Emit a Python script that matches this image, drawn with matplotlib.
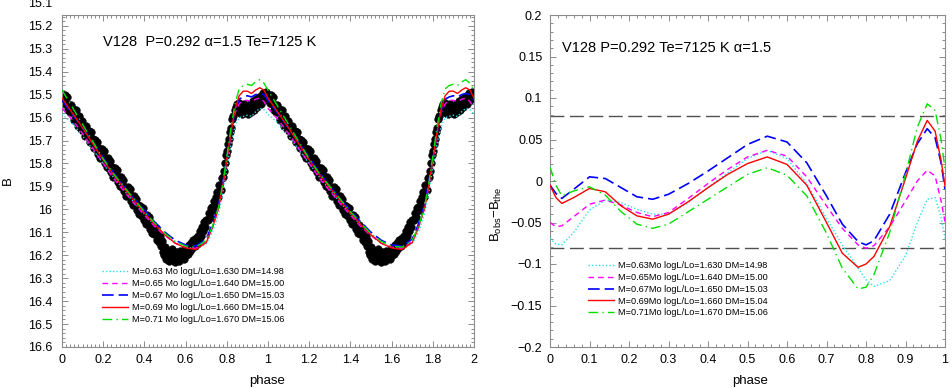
import matplotlib
matplotlib.use('Agg')
import matplotlib.pyplot as plt
from matplotlib.ticker import MultipleLocator, FuncFormatter

plt.rcParams['font.family'] = ['Liberation Sans', 'DejaVu Sans']
plt.rcParams['mathtext.fontset'] = 'custom'
plt.rcParams['mathtext.rm'] = 'Liberation Sans'
plt.rcParams['mathtext.it'] = 'Liberation Sans:italic'

# ---------------- data: observed light curve (one cycle, repeated at phase+1) ----------
obs_phase = [0.003, 0.008, 0.013, 0.018, 0.023, 0.029, 0.034, 0.039, 0.044, 0.05,
             0.055, 0.06, 0.066, 0.071, 0.076, 0.081, 0.087, 0.092, 0.097, 0.102,
             0.108, 0.113, 0.118, 0.123, 0.129, 0.134, 0.139, 0.144, 0.15, 0.155,
             0.16, 0.165, 0.171, 0.176, 0.181, 0.186, 0.192, 0.197, 0.202, 0.207,
             0.213, 0.218, 0.223, 0.228, 0.234, 0.239, 0.244, 0.249, 0.255, 0.26,
             0.265, 0.27, 0.276, 0.281, 0.286, 0.291, 0.297, 0.302, 0.307, 0.312,
             0.318, 0.323, 0.328, 0.333, 0.339, 0.344, 0.349, 0.354, 0.36, 0.365,
             0.37, 0.375, 0.381, 0.386, 0.391, 0.396, 0.402, 0.407, 0.412, 0.417,
             0.423, 0.428, 0.433, 0.438, 0.444, 0.449, 0.454, 0.46, 0.465, 0.47,
             0.476, 0.481, 0.486, 0.491, 0.497, 0.502, 0.507, 0.512, 0.518, 0.523,
             0.528, 0.533, 0.539, 0.544, 0.549, 0.554, 0.56, 0.565, 0.57, 0.575,
             0.581, 0.586, 0.591, 0.596, 0.602, 0.607, 0.612, 0.617, 0.623, 0.628,
             0.633, 0.638, 0.644, 0.649, 0.654, 0.659, 0.665, 0.67, 0.675, 0.68,
             0.686, 0.691, 0.696, 0.701, 0.707, 0.712, 0.717, 0.722, 0.728, 0.733,
             0.738, 0.743, 0.749, 0.754, 0.759, 0.764, 0.77, 0.775, 0.78, 0.785,
             0.79, 0.796, 0.801, 0.806, 0.811, 0.817, 0.822, 0.827, 0.832, 0.838,
             0.843, 0.848, 0.853, 0.858, 0.864, 0.869, 0.874, 0.88, 0.885, 0.89,
             0.895, 0.901, 0.906, 0.911, 0.916, 0.922, 0.927, 0.932, 0.937, 0.943,
             0.948, 0.953, 0.958, 0.964, 0.969, 0.974, 0.979, 0.985, 0.99, 0.995]
obs_B = [15.50, 15.536, 15.503, 15.54, 15.511, 15.569, 15.546, 15.577, 15.544, 15.577,
         15.563, 15.61, 15.567, 15.614, 15.636, 15.592, 15.63, 15.652, 15.613, 15.66,
         15.642, 15.679, 15.635, 15.677, 15.66, 15.705, 15.663, 15.71, 15.693, 15.734,
         15.696, 15.727, 15.705, 15.757, 15.733, 15.775, 15.737, 15.774, 15.745, 15.797,
         15.78, 15.817, 15.778, 15.82, 15.788, 15.839, 15.816, 15.857, 15.82, 15.852,
         15.828, 15.88, 15.858, 15.899, 15.861, 15.902, 15.87, 15.922, 15.903, 15.94,
         15.903, 15.939, 15.911, 15.962, 15.94, 15.982, 15.943, 15.975, 15.953, 16.004,
         15.981, 16.022, 15.985, 16.027, 15.993, 16.045, 16.028, 16.064, 16.026, 16.062,
         16.035, 16.087, 16.063, 16.105, 16.068, 16.109, 16.08, 16.133, 16.105, 16.142,
         16.115, 16.16, 16.14, 16.185, 16.20, 16.165, 16.215, 16.185, 16.225, 16.19,
         16.21, 16.175, 16.22, 16.195, 16.23, 16.185, 16.21, 16.195, 16.225, 16.18,
         16.205, 16.185, 16.215, 16.175, 16.20, 16.165, 16.195, 16.155, 16.18, 16.145,
         16.17, 16.135, 16.16, 16.125, 16.15, 16.115, 16.135, 16.095, 16.115, 16.075,
         16.095, 16.055, 16.075, 16.045, 16.045, 16.015, 16.035, 15.995, 15.99, 16.005,
         15.965, 15.985, 15.945, 15.925, 15.945, 15.895, 15.915, 15.865, 15.86, 15.835,
         15.80, 15.765, 15.745, 15.715, 15.695, 15.665, 15.645, 15.605, 15.595, 15.565,
         15.555, 15.54, 15.565, 15.535, 15.58, 15.55, 15.585, 15.555, 15.54, 15.575,
         15.55, 15.585, 15.56, 15.54, 15.575, 15.55, 15.53, 15.565, 15.535, 15.52,
         15.555, 15.525, 15.51, 15.54, 15.505, 15.495, 15.525, 15.50, 15.49, 15.515]

# ---------------- data: model light curves (one cycle) ----------------
model_phase = [0, 0.05, 0.1, 0.15, 0.2, 0.25, 0.3, 0.35, 0.4, 0.45, 0.5, 0.55, 0.6,
               0.65, 0.7, 0.73, 0.76, 0.78, 0.8, 0.82, 0.84, 0.86, 0.88, 0.9, 0.92,
               0.94, 0.96, 0.98, 1.0]
B_m063 = [15.585, 15.625, 15.68, 15.74, 15.80, 15.86, 15.915, 15.97, 16.02, 16.07,
          16.11, 16.145, 16.165, 16.172, 16.15, 16.10, 16.02, 15.93, 15.82, 15.715,
          15.64, 15.60, 15.595, 15.59, 15.595, 15.575, 15.56, 15.565, 15.585]
B_m065 = [15.56, 15.61, 15.67, 15.735, 15.80, 15.865, 15.92, 15.975, 16.025, 16.075,
          16.115, 16.148, 16.165, 16.17, 16.14, 16.08, 15.995, 15.90, 15.79, 15.675,
          15.58, 15.54, 15.525, 15.525, 15.53, 15.52, 15.515, 15.53, 15.56]
B_m067 = [15.525, 15.585, 15.645, 15.71, 15.775, 15.84, 15.90, 15.955, 16.005, 16.055,
          16.10, 16.135, 16.155, 16.16, 16.13, 16.065, 15.98, 15.885, 15.775, 15.665,
          15.57, 15.52, 15.51, 15.505, 15.51, 15.50, 15.495, 15.50, 15.525]
B_m069 = [15.515, 15.58, 15.645, 15.715, 15.785, 15.85, 15.907, 15.962, 16.016, 16.066,
          16.111, 16.148, 16.168, 16.175, 16.145, 16.08, 15.995, 15.90, 15.783, 15.667,
          15.565, 15.505, 15.485, 15.485, 15.495, 15.48, 15.47, 15.48, 15.515]
B_m071 = [15.48, 15.555, 15.63, 15.705, 15.78, 15.845, 15.90, 15.955, 16.01, 16.06,
          16.105, 16.14, 16.16, 16.165, 16.135, 16.075, 15.99, 15.89, 15.77, 15.645,
          15.54, 15.475, 15.46, 15.455, 15.46, 15.445, 15.435, 15.45, 15.48]

# ---------------- data: residuals B_obs - B_the ----------------
res_phase = [0, 0.015, 0.03, 0.06, 0.1, 0.14, 0.18, 0.22, 0.26, 0.3, 0.35, 0.4, 0.45,
             0.5, 0.55, 0.6, 0.65, 0.7, 0.74, 0.78, 0.8, 0.82, 0.86, 0.9, 0.93, 0.955,
             0.975, 0.99, 1.0]
res_m063 = [-0.069, -0.076, -0.077, -0.062, -0.035, -0.023, -0.026, -0.034, -0.040, -0.040,
            -0.026, -0.008, 0.010, 0.027, 0.037, 0.027, -0.003, -0.045, -0.077, -0.105,
            -0.119, -0.127, -0.120, -0.090, -0.050, -0.022, -0.020, -0.044, -0.069]
res_m065 = [-0.050, -0.055, -0.054, -0.043, -0.028, -0.023, -0.029, -0.038, -0.043, -0.038,
            -0.021, -0.003, 0.014, 0.029, 0.037, 0.030, 0.005, -0.030, -0.057, -0.077,
            -0.081, -0.078, -0.055, -0.024, 0.000, 0.013, 0.006, -0.024, -0.049]
res_m067 = [-0.005, -0.015, -0.021, -0.010, 0.005, 0.003, -0.008, -0.019, -0.022, -0.016,
            -0.003, 0.012, 0.028, 0.044, 0.054, 0.047, 0.022, -0.018, -0.052, -0.073,
            -0.077, -0.072, -0.040, 0.010, 0.045, 0.063, 0.052, 0.022, -0.010]
res_m069 = [-0.005, -0.020, -0.027, -0.020, -0.009, -0.013, -0.030, -0.042, -0.046, -0.040,
            -0.025, -0.008, 0.008, 0.021, 0.029, 0.020, -0.005, -0.050, -0.087, -0.104,
            -0.100, -0.091, -0.055, 0.003, 0.048, 0.073, 0.060, 0.025, -0.006]
res_m071 = [0.017, -0.005, -0.018, -0.012, -0.007, -0.017, -0.037, -0.052, -0.057, -0.052,
            -0.037, -0.022, -0.007, 0.008, 0.016, 0.007, -0.018, -0.063, -0.105, -0.130,
            -0.128, -0.113, -0.062, 0.008, 0.065, 0.093, 0.085, 0.050, 0.015]
res_limits = [0.078, -0.081]

labels_left = ["M=0.63 Mo logL/Lo=1.630 DM=14.98", "M=0.65 Mo logL/Lo=1.640 DM=15.00",
               "M=0.67 Mo logL/Lo=1.650 DM=15.03", "M=0.69 Mo logL/Lo=1.660 DM=15.04",
               "M=0.71 Mo logL/Lo=1.670 DM=15.06"]
labels_right = ["M=0.63Mo logL/Lo=1.630 DM=14.98", "M=0.65Mo logL/Lo=1.640 DM=15.00",
                "M=0.67Mo logL/Lo=1.650 DM=15.03", "M=0.69Mo logL/Lo=1.660 DM=15.04",
                "M=0.71Mo logL/Lo=1.670 DM=15.06"]

styles = [dict(color='#29dff0', lw=1.0, ls=(0, (1, 1.5))),
          dict(color='#ff00ff', lw=1.0, ls=(0, (4, 3))),
          dict(color='#0000ff', lw=1.2, ls=(0, (7, 3))),
          dict(color='#ff0000', lw=1.0, ls='-'),
          dict(color='#00e000', lw=1.0, ls=(0, (7, 3, 1, 3)))]

# ---------------- figure ----------------
fig = plt.figure(figsize=(9.52, 3.88), dpi=100)
axL = fig.add_axes([62/952, 41/388, 412/952, 332/388])
axR = fig.add_axes([550/952, 41/388, 395/952, 332/388])


def fmt(v, pos):
    if abs(v) < 1e-9:
        v = 0.0
    return ('%g' % round(v, 6)).replace('-', '\u2212')


def style(ax, ypad):
    for s in ax.spines.values():
        s.set_color('#8c8c8c')
        s.set_linewidth(0.8)
    ax.tick_params(which='both', direction='in', top=True, right=True,
                   colors='#8c8c8c', labelcolor='black', labelsize=9, width=0.7)
    ax.tick_params(which='major', length=4)
    ax.tick_params(which='minor', length=2)
    ax.tick_params(axis='y', pad=ypad)
    ax.tick_params(axis='x', pad=5)
    ax.xaxis.set_major_formatter(FuncFormatter(fmt))
    ax.yaxis.set_major_formatter(FuncFormatter(fmt))


# left panel
ph2 = obs_phase + [p + 1 for p in obs_phase]
b2 = obs_B + obs_B
axL.plot(ph2, b2, 'o', color='black', ms=5.6, mec='black', mew=0.3, zorder=2)
mph2 = model_phase + [p + 1 for p in model_phase[1:]]
for ys, st, lab in zip([B_m063, B_m065, B_m067, B_m069, B_m071], styles, labels_left):
    axL.plot(mph2, ys + ys[1:], label=lab, zorder=3, **st)
axL.set_xlim(0, 2)
axL.set_ylim(16.6, 15.153)
axL.xaxis.set_major_locator(MultipleLocator(0.2))
axL.xaxis.set_minor_locator(MultipleLocator(0.02))
axL.yaxis.set_major_locator(MultipleLocator(0.1))
axL.yaxis.set_minor_locator(MultipleLocator(0.02))
style(axL, 7)
axL.text(-0.024, 15.1, '15.1', transform=axL.get_yaxis_transform(), ha='right',
         va='center_baseline', fontsize=9, clip_on=False)
axL.text(0.0995, 0.919, 'V128  P=0.292 \u03b1=1.5 Te=7125 K', transform=axL.transAxes,
         fontsize=10.5, va='center', ha='left')
axL.set_xlabel('phase', fontsize=9.5)
axL.xaxis.set_label_coords(0.497, -0.083)
axL.set_ylabel('B', fontsize=9.5)
axL.yaxis.set_label_coords(-0.118, 0.5)
axL.legend(loc='upper left', bbox_to_anchor=(0.097, 0.24), frameon=False, fontsize=6.6,
           handlelength=2.8, handletextpad=0.5, labelspacing=0.33, borderpad=0,
           borderaxespad=0)

# right panel
for lvl in res_limits:
    axR.axhline(lvl, color='#505050', lw=1.0, ls=(0, (10, 4)), zorder=1)
for ys, st, lab in zip([res_m063, res_m065, res_m067, res_m069, res_m071], styles, labels_right):
    axR.plot(res_phase, ys, label=lab, zorder=3, **st)
axR.set_xlim(0, 1)
axR.set_ylim(-0.2, 0.2)
axR.xaxis.set_major_locator(MultipleLocator(0.1))
axR.xaxis.set_minor_locator(MultipleLocator(0.02))
axR.yaxis.set_major_locator(MultipleLocator(0.05))
axR.yaxis.set_minor_locator(MultipleLocator(0.01))
style(axR, 5.5)
axR.text(0.030, 0.90, 'V128 P=0.292 Te=7125 K \u03b1=1.5', transform=axR.transAxes,
         fontsize=10.5, va='center', ha='left')
axR.set_xlabel('phase', fontsize=9.5)
axR.xaxis.set_label_coords(0.506, -0.083)
axR.set_ylabel('B$_{\\mathrm{obs}}$\u2212B$_{\\mathrm{the}}$', fontsize=9.5)
axR.yaxis.set_label_coords(-0.117, 0.40)
axR.legend(loc='upper left', bbox_to_anchor=(0.096, 0.258), frameon=False, fontsize=6.6,
           handlelength=2.8, handletextpad=0.5, labelspacing=0.3, borderpad=0,
           borderaxespad=0)

fig.savefig('out.png', dpi=100)
